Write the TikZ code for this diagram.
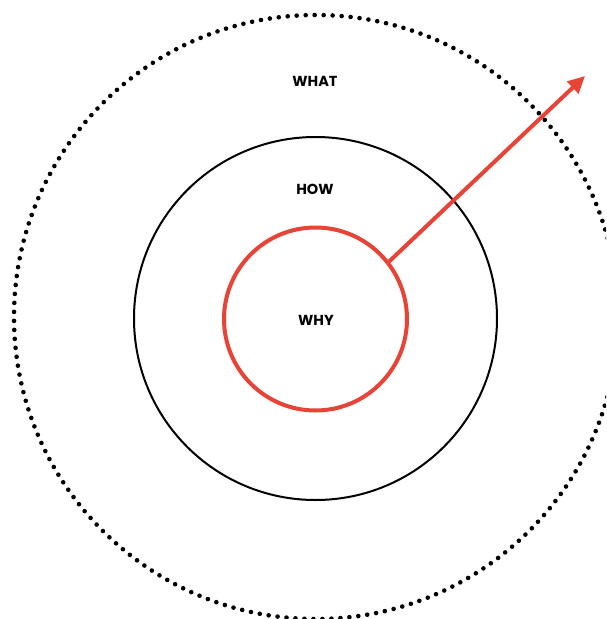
\documentclass[tikz,border=0pt]{standalone}
\usepackage{fontspec}
\setmainfont{Poppins}
\usetikzlibrary{arrows.meta}
\definecolor{wred}{RGB}{232,67,55}
\tikzset{
  lbl/.style={font=\fontsize{14.5}{16}\selectfont\bfseries, inner sep=0pt},
  dotring/.style={line width=4.6pt, line cap=round, dash pattern=on 0pt off 9pt},
}
\begin{document}
\begin{tikzpicture}[x=1pt,y=-1pt]
\useasboundingbox (0,0) rectangle (606,619);
\clip (0,0) rectangle (606,619);
\fill[white] (0,0) rectangle (606,619);
\draw[dotring] (316,317) circle[radius=302];
\draw[line width=2pt] (315.5,318.5) circle[radius=181.5];
\node[circle, draw=wred, line width=4pt, minimum size=183pt, inner sep=0pt] (why) at (315.5,319) {};
\node[lbl] (twhat) at (315,81) {WHAT};
\node[lbl] (thow) at (315,189) {HOW};
\node[lbl] (twhy) at (316,320) {WHY};
\coordinate (tip) at (585,76);
\draw[wred, line width=4pt, -{Triangle[length=17pt,width=16pt]}] (why.38) -- (tip);
\end{tikzpicture}
\end{document}
